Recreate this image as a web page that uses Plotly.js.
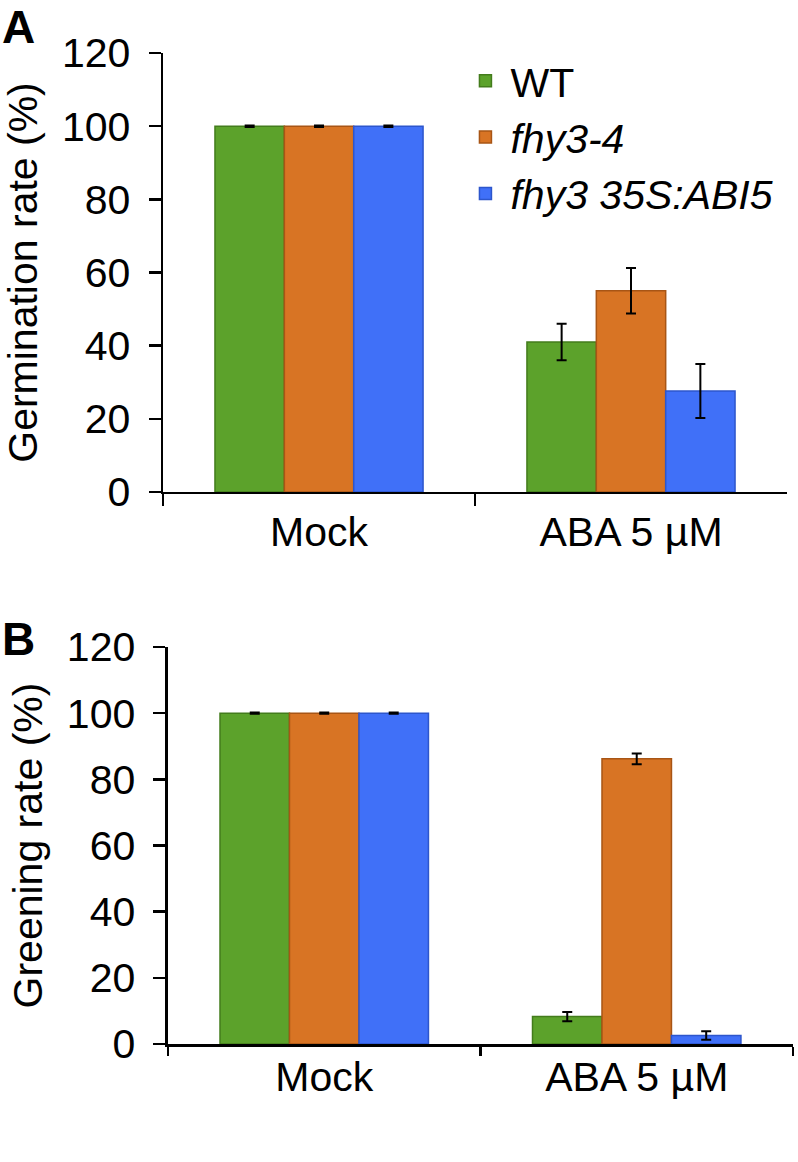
<!DOCTYPE html>
<html>
<head>
<meta charset="utf-8">
<script src="https://cdn.plot.ly/plotly-3.0.1.min.js"></script>
<style>html,body{margin:0;padding:0;background:#fff}#chart{width:798px;height:1162px}</style>
</head>
<body>
<div id="chart"></div>
<script>
// ---- data ----
const categories = ['Mock', 'ABA 5 µM'];
const seriesNames = ['WT', '<i>fhy3-4</i>', '<i>fhy3 35S:ABI5</i>'];

const germWT = [100, 41.0];
const germWTErr = [0.2, 5.0];
const germFhy = [100, 55.0];
const germFhyErr = [0.2, 6.2];
const germAbi = [100, 27.6];
const germAbiErr = [0.2, 7.4];

const greenWT = [100, 8.3];
const greenWTErr = [0.2, 1.4];
const greenFhy = [100, 86.2];
const greenFhyErr = [0.2, 1.6];
const greenAbi = [100, 2.6];
const greenAbiErr = [0.2, 1.3];

const tickVals = [0, 20, 40, 60, 80, 100, 120];

// ---- styles ----
const fills = ['#5ca22b', '#d87424', '#4070f8'];
const edges = ['#437c1c', '#a85515', '#2d56cc'];
const FONT = 'Liberation Sans, Arial, Helvetica, sans-serif';
const FS = 41;

function bar(vals, errs, i, xa, ya, showLegend) {
  return {
    type: 'bar', x: categories, y: vals, name: seriesNames[i],
    xaxis: xa, yaxis: ya, showlegend: showLegend, legendgroup: 'g' + i,
    marker: {color: fills[i], line: {color: edges[i], width: 1.5}},
    error_y: {type: 'data', array: errs, visible: true, color: '#000', thickness: 2, width: 5}
  };
}

const data = [
  bar(germWT, germWTErr, 0, 'x', 'y', true),
  bar(germFhy, germFhyErr, 1, 'x', 'y', true),
  bar(germAbi, germAbiErr, 2, 'x', 'y', true),
  bar(greenWT, greenWTErr, 0, 'x2', 'y2', false),
  bar(greenFhy, greenFhyErr, 1, 'x2', 'y2', false),
  bar(greenAbi, greenAbiErr, 2, 'x2', 'y2', false)
];

const xCommon = {
  type: 'category', showline: true, linecolor: '#000', linewidth: 2.5,
  ticks: 'outside', tickson: 'boundaries', tickwidth: 2.5, tickcolor: '#000',
  showgrid: false, zeroline: false, tickfont: {family: FONT, size: FS, color: '#000'}
};
const yCommon = {
  range: [0, 120], tickvals: tickVals, showline: true, linecolor: '#000', linewidth: 2.5,
  ticks: 'outside', ticklen: 12, tickwidth: 2.5, tickcolor: '#000', ticklabelstandoff: 10,
  showgrid: false, zeroline: false, tickfont: {family: FONT, size: FS, color: '#000'}
};

const layout = {
  width: 798, height: 1162,
  margin: {l: 0, r: 0, t: 0, b: 0},
  paper_bgcolor: '#fff', plot_bgcolor: '#fff',
  barmode: 'group', bargap: 0.333, bargroupgap: 0,
  font: {family: FONT, color: '#000'},
  xaxis: Object.assign({}, xCommon, {domain: [0.2043, 0.9862], anchor: 'y', ticklen: 12, ticklabelstandoff: 2}),
  yaxis: Object.assign({}, yCommon, {domain: [0.5766, 0.9544], anchor: 'x',
    title: {text: 'Germination rate (%)', font: {family: FONT, size: FS, color: '#000'}, standoff: 12}}),
  xaxis2: Object.assign({}, xCommon, {domain: [0.2105, 0.9937], anchor: 'y2', ticklen: 9, ticklabelstandoff: -5}),
  yaxis2: Object.assign({}, yCommon, {domain: [0.1015, 0.4432], anchor: 'x2',
    title: {text: 'Greening rate (%)', font: {family: FONT, size: FS, color: '#000'}, standoff: 12}}),
  legend: {x: 0.577, y: 0.959, xanchor: 'left', yanchor: 'top', bgcolor: 'rgba(0,0,0,0)',
    font: {family: FONT, size: FS, color: '#000'}, tracegroupgap: 0, itemwidth: 40},
  annotations: [
    {text: '<b>A</b>', xref: 'paper', yref: 'paper', x: 0.0, y: 0.977, xanchor: 'left', yanchor: 'middle',
      showarrow: false, font: {family: FONT, size: 46, color: '#000'}},
    {text: '<b>B</b>', xref: 'paper', yref: 'paper', x: 0.0, y: 0.450, xanchor: 'left', yanchor: 'middle',
      showarrow: false, font: {family: FONT, size: 46, color: '#000'}}
  ]
};

Plotly.newPlot('chart', data, layout, {displayModeBar: false, staticPlot: true});
</script>
</body>
</html>
